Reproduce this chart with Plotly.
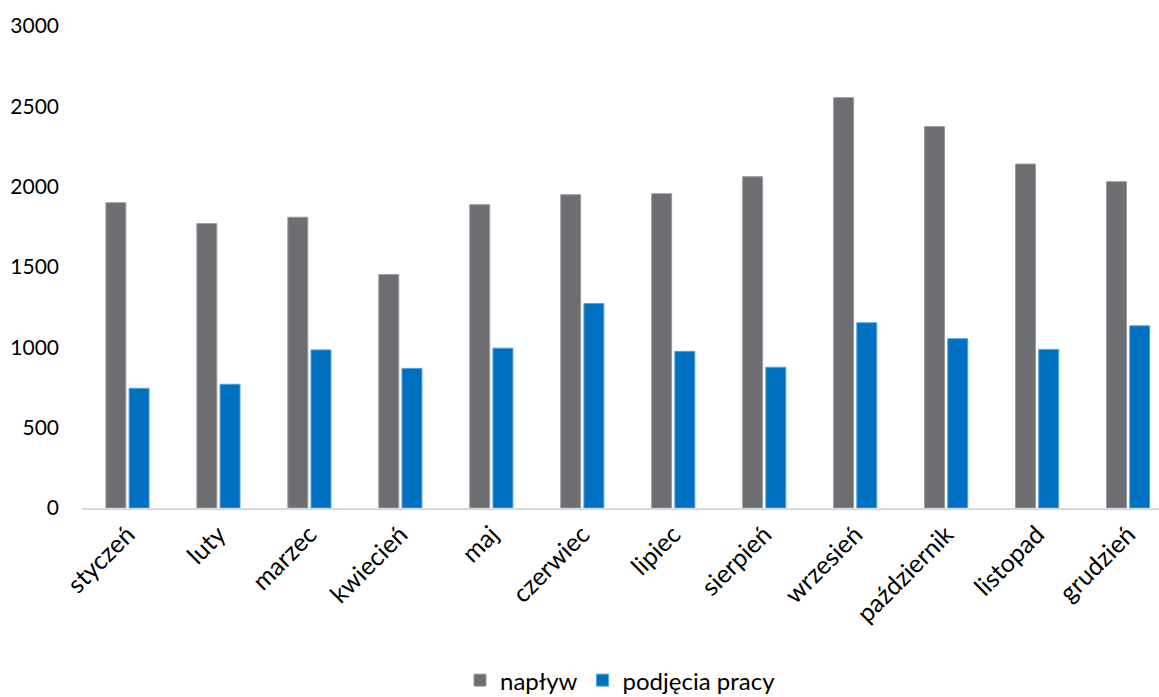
import plotly.graph_objects as go

months = ["styczeń", "luty", "marzec", "kwiecień", "maj", "czerwiec",
          "lipiec", "sierpień", "wrzesień", "październik", "listopad", "grudzień"]
naplyw = [1900, 1770, 1810, 1453, 1888, 1950, 1956, 2062, 2554, 2374, 2141, 2031]
podjecia = [745, 770, 984, 869, 995, 1273, 975, 876, 1153, 1054, 987, 1134]
y_ticks = [0, 500, 1000, 1500, 2000, 2500, 3000]

FONT = "Lato"

fig = go.Figure()
fig.add_trace(go.Bar(x=months, y=naplyw, name="napływ",
                     marker=dict(color="#6D6E71", line=dict(color="#9A9B9E", width=1))))
fig.add_trace(go.Bar(x=months, y=podjecia, name="podjęcia pracy",
                     marker=dict(color="#0070C0", line=dict(color="#4FA3E0", width=1))))

fig.update_layout(
    width=1159, height=697,
    margin=dict(l=82, r=0, t=26, b=189, autoexpand=False),
    paper_bgcolor="white", plot_bgcolor="white",
    barmode="group", bargap=0.49, bargroupgap=0.14,
    font=dict(family=FONT, size=22, color="#000000"),
    showlegend=True,
    legend=dict(orientation="h", x=0.5, xanchor="center", y=-0.358, yanchor="middle",
                font=dict(family=FONT, size=24, color="#000000"), itemwidth=30,
                traceorder="normal"),
    xaxis=dict(range=[-0.5, 11.34], showline=True, linecolor="#D9D9D9", linewidth=2,
               showgrid=False, tickangle=-45, ticks="", zeroline=False, automargin=False,
               tickfont=dict(family=FONT, size=25, color="#000000")),
    yaxis=dict(range=[0, 3000], tickvals=y_ticks, showgrid=False, showline=False,
               zeroline=False, ticks="", ticklabelstandoff=22, automargin=False,
               tickfont=dict(family=FONT, size=21, color="#000000")),
)

fig.write_html(
    "out.html",
    config={"displayModeBar": False},
    post_script="document.body.style.margin='0';document.body.style.overflow='hidden';"
                "document.documentElement.style.overflow='hidden';",
)
